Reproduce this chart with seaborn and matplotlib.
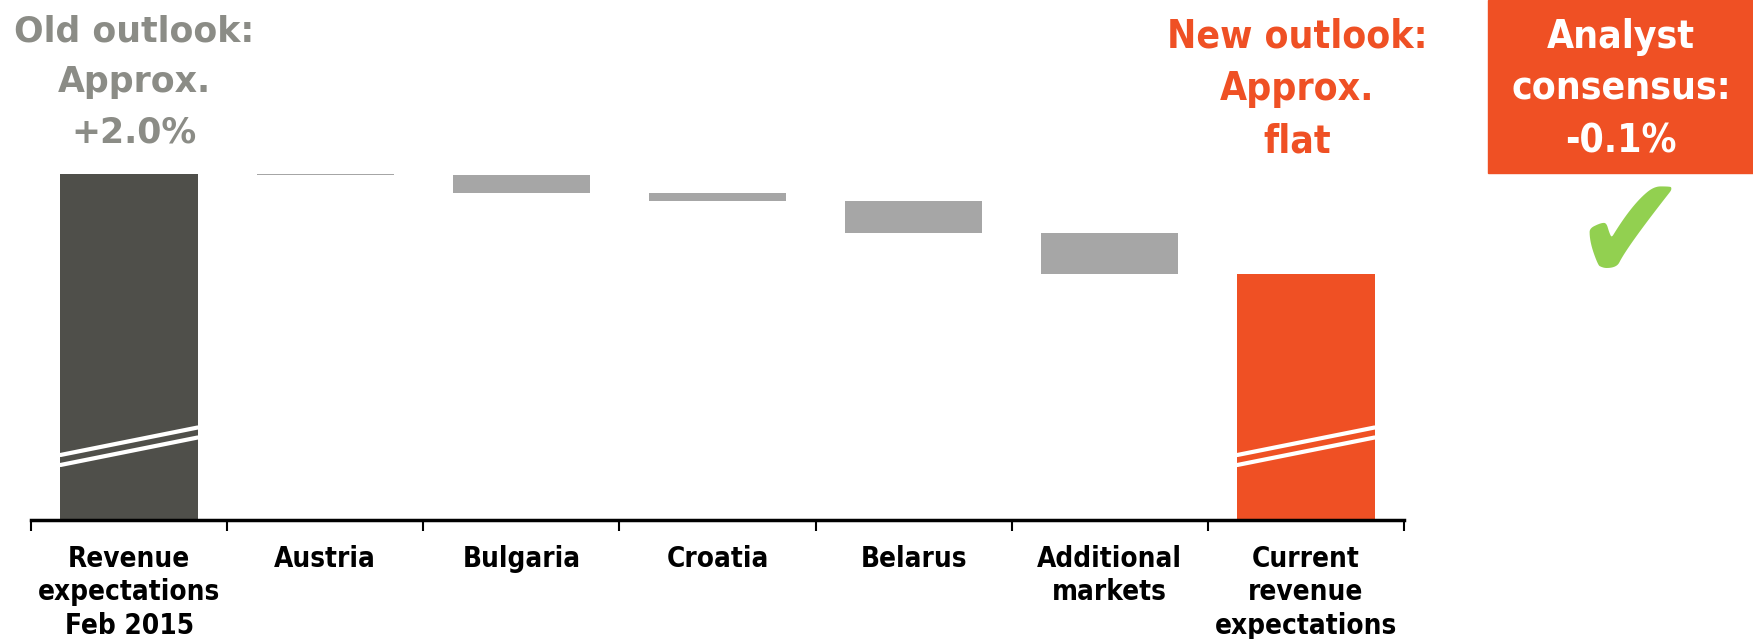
import matplotlib
matplotlib.use("Agg")
import matplotlib.pyplot as plt
import seaborn as sns
import numpy as np
from matplotlib.patches import Rectangle

# revenue index (prior year = 100)
categories = ["Revenue\nexpectations\nFeb 2015", "Austria", "Bulgaria", "Croatia",
              "Belarus", "Additional\nmarkets", "Current\nrevenue\nexpectations"]
start_value = 102.0
changes = [-0.03, -0.36, -0.16, -0.63, -0.82]
end_value = 100.0

old_text = "Old outlook:\nApprox.\n+2.0%"
new_text = "New outlook:\nApprox.\nflat"
consensus_text = "Analyst\nconsensus:\n-0.1%"

dark = "#4f4f4a"
grey = "#a6a6a6"
orange = "#ef5024"
text_grey = "#8b8c86"
green = "#92d050"

# waterfall levels
after = start_value + np.cumsum(changes)
before = np.concatenate([[start_value], after[:-1]])
tops = [start_value] + list(before) + [end_value]
lows = [0] + list(after) + [0]
palette = [dark] + [grey] * len(changes) + [orange]

sns.set_theme(style="white")
plt.rcParams['font.family'] = ['DejaVu Sans']
plt.rcParams['font.stretch'] = 'condensed'

fig = plt.figure(figsize=(17.53, 6.39), dpi=100)
ax = fig.add_axes([31 / 1753, 1 - 520 / 639, (1404 - 31) / 1753, 520 / 639])

sns.barplot(x=categories, y=tops, hue=categories, palette=palette, legend=False,
            width=0.7, saturation=1, linewidth=0, ax=ax)
# white bars hide the part below each floating step
sns.barplot(x=categories, y=lows, color="white", width=0.72, saturation=1,
            linewidth=0, ax=ax)

floor = 95.07
ax.set_ylim(floor, floor + 520 / 50.0)
ax.set_xlim(-0.5, len(categories) - 0.5)

# axis break marks on the total bars
for i in [0, len(categories) - 1]:
    xs = [i - 0.35, i + 0.35]
    ax.plot(xs, [floor + 1.1, floor + 1.65], color="white", lw=3, zorder=5)
    ax.plot(xs, [floor + 1.3, floor + 1.85], color="white", lw=3, zorder=5)

ax.set_yticks([])
ax.set_ylabel("")
for s in ["left", "top", "right"]:
    ax.spines[s].set_visible(False)
ax.spines["bottom"].set_linewidth(2.5)
ax.spines["bottom"].set_color("black")
ax.set_xticks(np.arange(-0.5, len(categories), 1), minor=True)
ax.tick_params(axis="x", which="minor", length=8, width=1.5, color="black",
               direction="out", bottom=True)
ax.tick_params(axis="x", which="major", length=0, pad=18)
for lab in ax.get_xticklabels():
    lab.set_fontsize(20)
    lab.set_fontweight("bold")
    lab.set_linespacing(1.25)
    lab.set_verticalalignment("top")
    lab.set_color("black")

fig.text(134 / 1753, 1 - 82 / 639, old_text, ha="center", va="center",
         color=text_grey, fontsize=25, fontweight="bold", linespacing=1.62,
         fontstretch="normal")
fig.text(1297 / 1753, 1 - 89 / 639, new_text, ha="center", va="center",
         color=orange, fontsize=28, fontweight="bold", linespacing=1.48)

fig.patches.append(Rectangle((1488 / 1753, 1 - 173 / 639), 265 / 1753, 173 / 639,
                             transform=fig.transFigure, color=orange, zorder=0))
fig.text(1621 / 1753, 1 - 89 / 639, consensus_text, ha="center", va="center",
         color="white", fontsize=28, fontweight="bold", linespacing=1.48)
fig.text(1630 / 1753, 1 - 240 / 639, "\u2714", ha="center", va="center",
         color=green, fontsize=108)

fig.savefig("out.png", dpi=100)
